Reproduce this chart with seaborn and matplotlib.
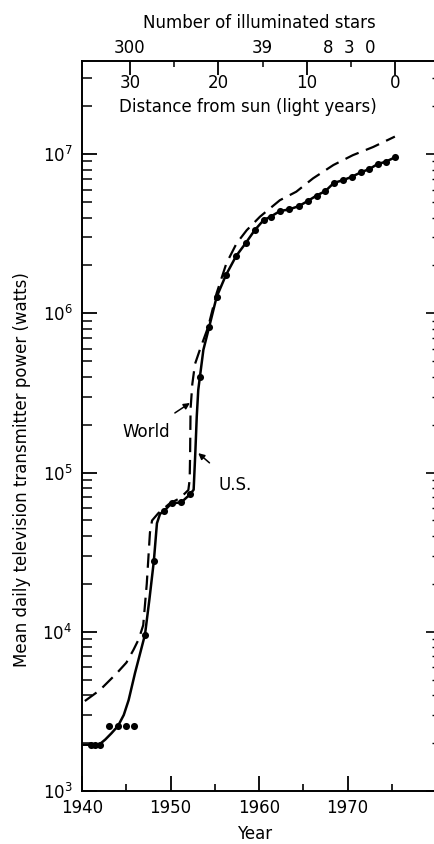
import numpy as np
import pandas as pd
import matplotlib
matplotlib.use('Agg')
import matplotlib.pyplot as plt
import seaborn as sns

# ── data ────────────────────────────────────────────────────────────
# U.S. yearly points (dots)
us_dot_years = [1941.0, 1941.5, 1942.0, 1943.0, 1944.05, 1945.0, 1945.9, 1947.1,
                1948.1, 1949.2, 1950.1, 1951.2, 1952.2, 1953.3, 1954.35, 1955.2,
                1956.25, 1957.4, 1958.5, 1959.5, 1960.5, 1961.3, 1962.35, 1963.4,
                1964.5, 1965.55, 1966.5, 1967.5, 1968.45, 1969.5, 1970.45, 1971.5,
                1972.45, 1973.4, 1974.3, 1975.35]
us_dot_watts = [1.94e3, 1.93e3, 1.94e3, 2.56e3, 2.56e3, 2.56e3, 2.56e3, 9.6e3,
                2.78e4, 5.7e4, 6.4e4, 6.5e4, 7.3e4, 3.96e5, 8.2e5, 1.27e6,
                1.74e6, 2.29e6, 2.77e6, 3.33e6, 3.85e6, 4.05e6, 4.39e6, 4.5e6,
                4.72e6, 5.1e6, 5.5e6, 5.87e6, 6.6e6, 6.87e6, 7.2e6, 7.69e6,
                8.06e6, 8.67e6, 8.96e6, 9.55e6]

# U.S. smoothed curve (solid) up to 1954, afterwards it runs through the dots
us_fit_years = [1940.0, 1941.0, 1942.0, 1942.6, 1943.3, 1944.05, 1944.7, 1945.25,
                1945.97, 1946.6, 1947.1, 1947.6, 1948.1, 1948.45, 1948.8, 1949.2,
                1950.1, 1951.2, 1952.2, 1952.6, 1952.8, 1952.95, 1953.12, 1953.3,
                1953.7]
us_fit_watts = [1.95e3, 1.95e3, 1.97e3, 2.1e3, 2.3e3, 2.56e3, 3.0e3, 3.72e3,
                5.5e3, 7.5e3, 9.6e3, 1.6e4, 2.78e4, 4.8e4, 5.5e4, 5.7e4,
                6.4e4, 6.5e4, 7.3e4, 7.8e4, 1.38e5, 2.24e5, 3.3e5, 3.96e5,
                5.9e5]

# World curve (dashed)
world_years = [1940.3, 1942.0, 1943.9, 1945.0, 1945.8, 1946.4, 1946.9, 1947.3,
               1947.66, 1947.9, 1948.6, 1949.9, 1951.05, 1952.0, 1952.15, 1952.2,
               1952.25, 1952.45, 1952.75, 1953.3, 1954.25, 1955.2, 1956.3, 1957.45,
               1958.6, 1960.1, 1962.35, 1964.2, 1966.1, 1968.4, 1970.6, 1972.9,
               1975.35]
world_watts = [3.67e3, 4.3e3, 5.48e3, 6.4e3, 7.7e3, 9.0e3, 1.1e4, 2.0e4,
               4.2e4, 5.0e4, 5.55e4, 6.4e4, 6.9e4, 7.76e4, 9.0e4, 1.3e5,
               2.5e5, 3.6e5, 4.8e5, 5.9e5, 8.24e5, 1.34e6, 2.06e6, 2.75e6,
               3.33e6, 4.05e6, 5.14e6, 5.81e6, 7.05e6, 8.55e6, 9.86e6, 1.11e7,
               1.29e7]

# top axes
dist_major = [30, 20, 10, 0]
dist_minor = [25, 15, 5]
star_pos = [30, 15, 7.6, 5.2, 2.9]
star_labels = ['300', '39', '8', '3', '0']
YEAR_ZERO_DIST = 1975.4

# ── figure ──────────────────────────────────────────────────────────
sns.set_style('ticks')
plt.rcParams['font.family'] = ['DejaVu Sans']
plt.rcParams['mathtext.fontset'] = 'dejavusans'
plt.rcParams['text.color'] = 'black'
plt.rcParams['axes.labelcolor'] = 'black'
plt.rcParams['xtick.color'] = 'black'
plt.rcParams['ytick.color'] = 'black'
plt.rcParams['axes.edgecolor'] = 'black'
FS = 12

fig = plt.figure(figsize=(4.34, 8.44), dpi=100)
ax = fig.add_axes([82.2 / 434, 1 - 790.9 / 844, 353.8 / 434, 729.9 / 844])

us_line = pd.DataFrame({
    'year': us_fit_years + [y for y in us_dot_years if y > 1954],
    'watts': us_fit_watts + [w for y, w in zip(us_dot_years, us_dot_watts) if y > 1954],
})
world = pd.DataFrame({'year': world_years, 'watts': world_watts})
dots = pd.DataFrame({'year': us_dot_years, 'watts': us_dot_watts})

sns.lineplot(data=world, x='year', y='watts', ax=ax, color='black', lw=1.6,
             sort=False, estimator=None, linestyle=(0, (6.5, 3.5)))
sns.lineplot(data=us_line, x='year', y='watts', ax=ax, color='black', lw=1.8,
             sort=False, estimator=None)
sns.scatterplot(data=dots, x='year', y='watts', ax=ax, color='black', s=26,
                edgecolor='black', linewidth=0, zorder=5)

ax.set_yscale('log')
ax.set_xlim(1940, 1980)
ax.set_ylim(1e3, 3.85e7)
ax.set_xlabel('')
ax.set_ylabel('')

ax.set_xticks([1940, 1950, 1960, 1970, 1980])
ax.set_xticklabels(['1940', '1950', '1960', '1970', ''])
ax.set_xticks([1945, 1955, 1965, 1975], minor=True)
ax.tick_params(axis='x', which='major', direction='in', length=11, width=1.3,
               labelsize=FS, pad=6, top=False)
ax.tick_params(axis='x', which='minor', direction='in', length=5, width=1.2,
               top=False)
ax.tick_params(axis='y', which='major', direction='in', length=11, width=1.3,
               labelsize=FS, pad=7, right=False)
ax.tick_params(axis='y', which='minor', direction='in', length=7, width=1.1,
               right=False)
ax.spines['right'].set_visible(False)
for s in ['left', 'bottom', 'top']:
    ax.spines[s].set_linewidth(1.4)

# right side ticks only (spine lies just outside the picture)
sec_y = ax.secondary_yaxis('right')
sec_y.tick_params(which='major', direction='in', length=7, width=1.2, labelright=False)
sec_y.tick_params(which='minor', direction='in', length=3, width=1.0)
sec_y.spines['right'].set_visible(False)

# distance from sun (ticks hanging into the plot, labels inside)
to_dist = (lambda y: YEAR_ZERO_DIST - y, lambda d: YEAR_ZERO_DIST - d)
sec_d = ax.secondary_xaxis('top', functions=to_dist)
sec_d.set_xticks(dist_major)
sec_d.set_xticklabels([str(d) for d in dist_major])
sec_d.set_xticks(dist_minor, minor=True)
sec_d.tick_params(which='major', direction='in', length=10, width=1.3,
                  labelsize=FS, pad=-22)
sec_d.tick_params(which='minor', direction='in', length=4, width=1.1)
sec_d.spines['top'].set_visible(False)
ax.text(0.467, 0.937, 'Distance from sun (light years)', transform=ax.transAxes,
        ha='center', va='center', fontsize=FS)

# number of illuminated stars
sec_s = ax.secondary_xaxis('top', functions=to_dist)
sec_s.set_xticks(star_pos)
sec_s.set_xticklabels(star_labels)
sec_s.tick_params(length=0, labelsize=FS, pad=3)
sec_s.spines['top'].set_visible(False)
sec_s.set_xlabel('Number of illuminated stars', fontsize=FS, labelpad=8)

# annotations
ax.annotate('World', xy=(1952.18, 10 ** 5.437), xytext=(1947.2, 10 ** 5.254),
            ha='center', va='center', fontsize=FS,
            arrowprops=dict(arrowstyle='-|>', color='black', lw=1.1,
                            shrinkA=9, shrinkB=0, mutation_scale=9))
ax.annotate('U.S.', xy=(1953.12, 10 ** 5.122), xytext=(1957.3, 10 ** 4.921),
            ha='center', va='center', fontsize=FS,
            arrowprops=dict(arrowstyle='-|>', color='black', lw=1.1,
                            shrinkA=11, shrinkB=0, mutation_scale=9))

fig.text(22 / 434, 1 - 470 / 844, 'Mean daily television transmitter power (watts)',
         rotation=90, ha='center', va='center', fontsize=FS)
fig.text(255 / 434, 1 - 834 / 844, 'Year', ha='center', va='center', fontsize=FS)

fig.savefig('out.png', dpi=100)
